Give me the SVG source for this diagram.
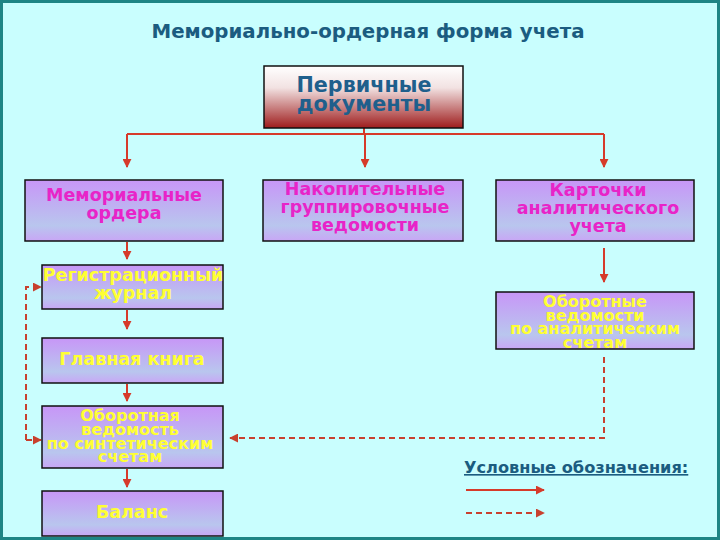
<svg xmlns="http://www.w3.org/2000/svg" width="720" height="540" viewBox="0 0 720 540">
<defs>
<linearGradient id="gPrim" x1="0" y1="0" x2="0" y2="1">
<stop offset="0" stop-color="#FFFFFF"/>
<stop offset="0.35" stop-color="#F2E2E2"/>
<stop offset="1" stop-color="#9E1C1C"/>
</linearGradient>
<linearGradient id="gBox" x1="0" y1="0" x2="0" y2="1">
<stop offset="0" stop-color="#C796F7"/>
<stop offset="0.75" stop-color="#B9C6EE"/>
<stop offset="1" stop-color="#C8A6F5"/>
</linearGradient>
<marker id="ahs" viewBox="0 0 10 10" refX="9" refY="5" markerWidth="9" markerHeight="9" orient="auto" markerUnits="userSpaceOnUse">
<path d="M0,0 L10,5 L0,10 z" fill="#D63A2A"/>
</marker>
<marker id="ahd" viewBox="0 0 10 10" refX="9" refY="5" markerWidth="9" markerHeight="9" orient="auto" markerUnits="userSpaceOnUse">
<path d="M0,0 L10,5 L0,10 z" fill="#C8402E"/>
</marker>
</defs>
<style>
.box{fill:url(#gBox);stroke:#111;stroke-width:1.5}
.t{font-family:"DejaVu Sans",Verdana,sans-serif;font-weight:bold;text-anchor:middle}
.mg{fill:#E824C8;font-size:17.5px}
.yl{fill:#FFFF33;font-size:17.5px}
.ys{fill:#FFFF33;font-size:16px}
.solid{stroke:#D63A2A;stroke-width:2;fill:none}
.dash{stroke:#C8402E;stroke-width:2;fill:none;stroke-dasharray:6,4}
</style>
<rect x="0" y="0" width="720" height="540" fill="#C9FEFE"/>
<rect x="1.5" y="1.5" width="717" height="537" fill="none" stroke="#1E8585" stroke-width="3"/>
<text x="368" y="38" class="t" style="fill:#1B5C80;font-size:19.8px">Мемориально-ордерная форма учета</text>

<g id="connectors">
<path class="solid" d="M364,128 V134 M127,134 H604"/>
<path class="solid" d="M127,134 V167" marker-end="url(#ahs)"/>
<path class="solid" d="M365,134 V167" marker-end="url(#ahs)"/>
<path class="solid" d="M604,134 V167" marker-end="url(#ahs)"/>
<path class="solid" d="M127,242 V259" marker-end="url(#ahs)"/>
<path class="solid" d="M127,310 V329" marker-end="url(#ahs)"/>
<path class="solid" d="M127,384 V401" marker-end="url(#ahs)"/>
<path class="solid" d="M127,469 V487" marker-end="url(#ahs)"/>
<path class="solid" d="M604,248 V282" marker-end="url(#ahs)"/>
<path class="dash" d="M26,440 V287 H41" marker-end="url(#ahd)"/>
<path class="dash" d="M26,440 H41" marker-end="url(#ahd)"/>
<path class="dash" d="M604,357 V438 H230" marker-end="url(#ahd)"/>
</g>

<g id="n-prim">
<rect x="264" y="66" width="199" height="62" fill="url(#gPrim)" stroke="#111" stroke-width="1.5"/>
<text x="364" y="92" class="t" style="fill:#1F5F8C;font-size:20.7px">Первичные</text>
<text x="364" y="111" class="t" style="fill:#1F5F8C;font-size:20.7px">документы</text>
</g>
<g id="n-memo">
<rect class="box" x="25" y="180" width="198" height="61"/>
<text x="124" y="201" class="t mg">Мемориальные</text>
<text x="124" y="219" class="t mg">ордера</text>
</g>
<g id="n-nakop">
<rect class="box" x="263" y="180" width="200" height="61"/>
<text x="365" y="195" class="t mg">Накопительные</text>
<text x="365" y="213" class="t mg">группировочные</text>
<text x="365" y="231" class="t mg">ведомости</text>
</g>
<g id="n-kart">
<rect class="box" x="496" y="180" width="198" height="61"/>
<text x="598" y="196" class="t mg">Карточки</text>
<text x="598" y="214" class="t mg">аналитического</text>
<text x="598" y="232" class="t mg">учета</text>
</g>
<g id="n-reg">
<rect class="box" x="42" y="265" width="181" height="44"/>
<text x="133" y="281" class="t yl">Регистрационный</text>
<text x="133" y="299" class="t yl">журнал</text>
</g>
<g id="n-glav">
<rect class="box" x="42" y="338" width="181" height="45"/>
<text x="132" y="365" class="t yl">Главная книга</text>
</g>
<g id="n-obsint">
<rect class="box" x="42" y="406" width="181" height="62"/>
<text x="130" y="421" class="t ys">Оборотная</text>
<text x="130" y="435" class="t ys">ведомость</text>
<text x="130" y="449" class="t ys">по синтетическим</text>
<text x="130" y="462" class="t ys">счетам</text>
</g>
<g id="n-bal">
<rect class="box" x="42" y="491" width="181" height="45"/>
<text x="132" y="518" class="t yl">Баланс</text>
</g>
<g id="n-oban">
<rect class="box" x="496" y="292" width="198" height="57"/>
<text x="595" y="307" class="t ys">Оборотные</text>
<text x="595" y="321" class="t ys">ведомости</text>
<text x="595" y="334" class="t ys">по аналитическим</text>
<text x="595" y="348" class="t ys">счетам</text>
</g>
<g id="legend">
<text x="464" y="473" style="font-family:'DejaVu Sans',Verdana,sans-serif;font-weight:bold;font-size:16.2px;fill:#1B5C80;text-decoration:underline">Условные обозначения:</text>
<path class="solid" d="M466,490 H544" marker-end="url(#ahs)"/>
<path class="dash" d="M466,513 H544" marker-end="url(#ahd)"/>
</g>
</svg>
